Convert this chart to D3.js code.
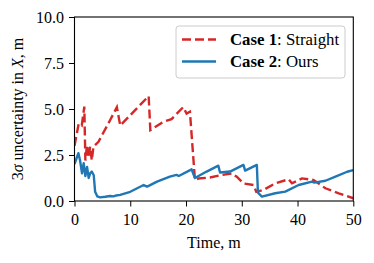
<!DOCTYPE html>
<html>
<head>
<meta charset="utf-8">
<script src="https://cdn.jsdelivr.net/npm/d3@7"></script>
<style>
  body { margin: 0; background: #fff; }
  text { font-family: "Liberation Serif", "Times New Roman", serif; fill: #000; }
</style>
</head>
<body>
<svg id="chart" width="374" height="263"></svg>
<script>
// Case 1: straight path
const case1Time = [0, 0.75, 1.3, 1.76, 1.95, 2.24, 2.55, 2.8, 3.1, 3.4, 4.3, 6.4, 7.6, 8.2, 13.3, 13.6, 15.9, 17.4, 19.5, 20.1, 20.7, 21.6, 22.2, 24.3, 26.1, 28.2, 29.1, 30.3, 32.1, 32.6, 33.9, 36, 38.4, 39, 40.8, 42.9, 45, 47.4, 50]
const case1Sigma = [3.0, 4.2, 4.1, 5.13, 2.2, 3.05, 2.35, 2.95, 2.2, 2.95, 3.22, 4.4, 5.1, 4.1, 5.7, 3.85, 4.3, 4.45, 5.1, 4.75, 4.85, 1.15, 1.22, 1.28, 1.4, 1.5, 1.32, 0.95, 0.87, 0.5, 0.6, 0.96, 1.18, 0.96, 1.23, 1.14, 0.69, 0.42, 0.15]
// Case 2: ours
const case2Time = [0, 0.4, 0.7, 1.0, 1.35, 1.65, 1.95, 2.25, 2.55, 2.8, 3.1, 3.45, 3.7, 4.1, 4.6, 5.5, 6.4, 7.0, 7.5, 8.2, 10, 12.4, 13, 13.3, 14.8, 17.1, 18.3, 18.7, 21, 21.6, 23.7, 25.8, 26.1, 27.9, 30.3, 30.6, 32.7, 32.9, 33.6, 36, 37.8, 40.2, 42.6, 43, 45, 46.8, 48.9, 50]
const case2Sigma = [2.0, 2.35, 2.6, 2.2, 1.5, 2.05, 1.35, 1.85, 1.25, 1.5, 1.6, 1.4, 0.5, 0.25, 0.2, 0.23, 0.27, 0.25, 0.3, 0.33, 0.5, 0.87, 0.78, 0.82, 1.05, 1.32, 1.42, 1.36, 1.72, 1.25, 1.6, 1.92, 1.55, 1.6, 1.96, 1.65, 1.96, 0.45, 0.24, 0.42, 0.51, 0.87, 1.05, 1.0, 1.1, 1.32, 1.59, 1.68]
const xTicks = [0, 10, 20, 30, 40, 50]
const yTicks = [0, 2.5, 5, 7.5, 10]

const mLeft = 74.5, mRight = 353.3, mTop = 17, mBottom = 201
const svg = d3.select("#chart")

const x = d3.scaleLinear().domain([0, 50]).range([mLeft, mRight])
const y = d3.scaleLinear().domain([0, 10]).range([mBottom, mTop])

const line = d3.line()
    .x(d => x(d[0]))
    .y(d => y(d[1]))

const clip = svg.append("clipPath").attr("id", "plotclip")
clip.append("rect").attr("x", mLeft).attr("y", mTop).attr("width", mRight - mLeft).attr("height", mBottom - mTop)

const plot = svg.append("g").attr("clip-path", "url(#plotclip)")

plot.append("path")
    .datum(d3.zip(case1Time, case1Sigma))
    .attr("d", line)
    .attr("fill", "none")
    .attr("stroke", "#d62728")
    .attr("stroke-width", 2.4)
    .attr("stroke-dasharray", "9 4")

plot.append("path")
    .datum(d3.zip(case2Time, case2Sigma))
    .attr("d", line)
    .attr("fill", "none")
    .attr("stroke", "#1f77b4")
    .attr("stroke-width", 2.4)
    .attr("stroke-linejoin", "round")

// axes
const xAxis = svg.append("g")
    .attr("transform", "translate(0," + mBottom + ")")
    .call(d3.axisBottom(x).tickValues(xTicks).tickFormat(d3.format("d")).tickSizeOuter(0).tickSize(5.5).tickPadding(7.5))
const yAxis = svg.append("g")
    .attr("transform", "translate(" + mLeft + ",0)")
    .call(d3.axisLeft(y).tickValues(yTicks).tickFormat(d3.format(".1f")).tickSizeOuter(0).tickSize(5.5).tickPadding(5))

;[xAxis, yAxis].forEach(a => {
    a.select(".domain").remove()
    a.selectAll(".tick line").attr("stroke", "#000").attr("stroke-width", 1)
    a.selectAll(".tick text").style("font-family", "Liberation Serif").style("font-size", "16px")
})

svg.append("rect")
    .attr("x", mLeft).attr("y", mTop)
    .attr("width", mRight - mLeft).attr("height", mBottom - mTop)
    .attr("fill", "none").attr("stroke", "#000").attr("stroke-width", 1.1)

// labels
svg.append("text")
    .attr("x", (mLeft + mRight) / 2).attr("y", 248)
    .attr("text-anchor", "middle")
    .style("font-size", "16px")
    .text("Time, m")

const ylab = svg.append("text")
    .attr("transform", "translate(22.5," + ((mTop + mBottom) / 2) + ") rotate(-90)")
    .attr("text-anchor", "middle")
    .style("font-size", "16px")
ylab.append("tspan").text("3")
ylab.append("tspan").style("font-style", "italic").text("σ")
ylab.append("tspan").text(" uncertainty in ")
ylab.append("tspan").style("font-style", "italic").text("X")
ylab.append("tspan").text(", m")

// legend
const legend = svg.append("g")
legend.append("rect")
    .attr("x", 176).attr("y", 26).attr("width", 169).attr("height", 52)
    .attr("rx", 3)
    .attr("fill", "#fff").attr("fill-opacity", 0.8)
    .attr("stroke", "#ccc").attr("stroke-width", 1)

const legendItems = [
    {name: "Case 1", rest: ": Straight", color: "#d62728", dash: "9 4", y: 39.5},
    {name: "Case 2", rest: ": Ours", color: "#1f77b4", dash: null, y: 61.5}
]
legendItems.forEach(item => {
    legend.append("line")
        .attr("x1", 182).attr("x2", 216)
        .attr("y1", item.y).attr("y2", item.y)
        .attr("stroke", item.color).attr("stroke-width", 2.4)
        .attr("stroke-dasharray", item.dash)
    const t = legend.append("text")
        .attr("x", 230).attr("y", item.y + 5.5)
        .style("font-size", "16.8px")
    t.append("tspan").style("font-weight", "bold").text(item.name)
    t.append("tspan").text(item.rest)
})
</script>
</body>
</html>
